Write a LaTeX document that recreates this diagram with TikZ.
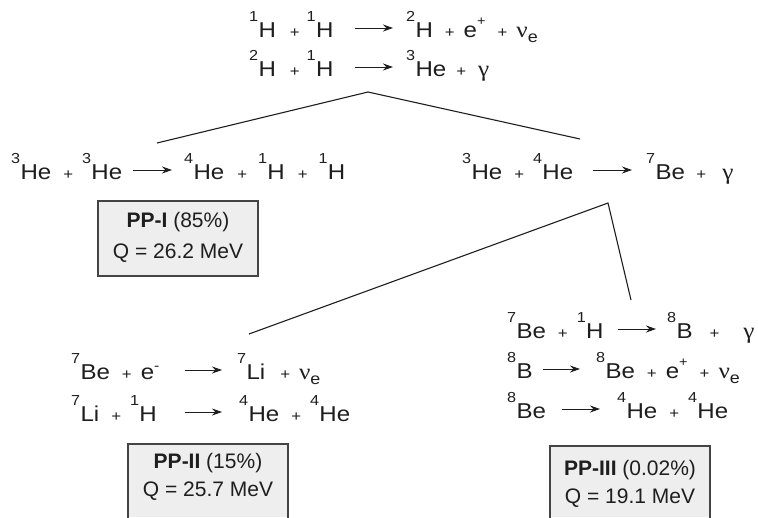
\documentclass[tikz,border=0pt]{standalone}
\usepackage{fontspec}
\setmainfont{Liberation Sans}
% reaction equations are set in a slightly widened face
\newfontfamily\eqfont[FakeStretch=1.12]{Liberation Sans}
\newfontfamily\grkfont[FakeStretch=1.12]{Liberation Serif}
\usetikzlibrary{arrows.meta}

% size switch, isotopes, particles
\newcommand\sz[1]{\fontsize{#1pt}{#1pt}\selectfont}
\newcommand\iso[2]{\raisebox{15.5pt}{\sz{14.5}#1}\kern0.3pt#2}
\newcommand\plx[2]{\hspace{#1}{\sz{15}+}\hspace{#2}}
\newcommand\pl{\plx{12pt}{9pt}}
\newcommand\nue{{\grkfont\sz{22.5}ν}\raisebox{-5pt}{\sz{16}e}}
\newcommand\gam{{\grkfont\sz{22.5}γ}}
\newcommand\epos{e\raisebox{11.5pt}{\sz{13}+}}
\newcommand\eneg{e\raisebox{9pt}{\sz{14}-}}

\definecolor{ink}{HTML}{1E1E1E}
\definecolor{boxfill}{HTML}{EEEEEE}
\definecolor{boxline}{HTML}{444444}

\tikzset{
  eq/.style={anchor=base west, inner sep=0pt, text=ink, font=\eqfont\sz{21.5}},
  rxn/.style={draw=ink, line width=0.9pt, -{Stealth[length=10pt,width=7pt]}},
  branch/.style={draw=ink, line width=1.1pt},
  ppframe/.style={draw=boxline, line width=1.1pt},
  pptext/.style={inner sep=0pt, text=ink, font=\sz{21}, align=center},
}

\begin{document}
\begin{tikzpicture}[x=1pt, y=-1pt]
\useasboundingbox (0,0) rectangle (758,517);

% ---- common start: p + p and deuterium burning
\node[eq] (r1l) at (249,37) {\iso{1}{H}\plx{14pt}{7pt}\iso{1}{H}};
\node[eq] (r1r) at (406,37) {\iso{2}{H}\pl\epos\pl\nue};
\coordinate (a1s) at (355,28); \coordinate (a1e) at (393,28);
\draw[rxn] (a1s) -- (a1e);

\node[eq] (r2l) at (249,76) {\iso{2}{H}\plx{14pt}{7pt}\iso{1}{H}};
\node[eq] (r2r) at (406,76) {\iso{3}{He}\plx{10pt}{12pt}\gam};
\coordinate (a2s) at (355,67); \coordinate (a2e) at (393,67);
\draw[rxn] (a2s) -- (a2e);

% ---- first branching
\coordinate (p0) at (368,92);
\coordinate (p0l) at (157,143);
\coordinate (p0r) at (580,139);
\draw[branch] (p0l) -- (p0) -- (p0r);

% PP-I chain
\node[eq] (s1l) at (11,179) {\iso{3}{He}\pl\iso{3}{He}};
\node[eq] (s1r) at (184,179) {\iso{4}{He}\plx{13pt}{11pt}\iso{1}{H}\plx{13pt}{11pt}\iso{1}{H}};
\coordinate (b1s) at (133,170); \coordinate (b1e) at (172,170);
\draw[rxn] (b1s) -- (b1e);

\fill[boxfill] (98,201) rectangle (258,276);
\draw[ppframe] (98,201) rectangle (258,276);
\node[pptext, anchor=base] (pp1a) at (178,227) {\textbf{PP-I} (85\%)};
\node[pptext, anchor=base] (pp1b) at (178,258) {Q = 26.2 MeV};

% 3He + 4He
\node[eq] (s2l) at (462,179) {\iso{3}{He}\pl\iso{4}{He}};
\node[eq] (s2r) at (646,179) {\iso{7}{Be}\plx{11.5pt}{16pt}\gam};
\coordinate (b2s) at (593,170); \coordinate (b2e) at (632,170);
\draw[rxn] (b2s) -- (b2e);

% ---- second branching
\coordinate (p1) at (608,203);
\coordinate (p1l) at (249,334);
\coordinate (p1r) at (631,300);
\draw[branch] (p1l) -- (p1) -- (p1r);

% PP-II chain
\node[eq] (t1l) at (71,379) {\iso{7}{Be}\pl\eneg};
\node[eq] (t1r) at (237,379) {\iso{7}{Li}\plx{15pt}{9pt}\nue};
\coordinate (c1s) at (185,370); \coordinate (c1e) at (222,370);
\draw[rxn] (c1s) -- (c1e);

\node[eq] (t2l) at (71,421) {\iso{7}{Li}\pl\iso{1}{H}};
\node[eq] (t2r) at (239,421) {\iso{4}{He}\pl\iso{4}{He}};
\coordinate (c2s) at (185,412); \coordinate (c2e) at (222,412);
\draw[rxn] (c2s) -- (c2e);

\fill[boxfill] (128,444) rectangle (288,517);
\draw[ppframe] (128,518) -- (128,444) -- (288,444) -- (288,518);
\node[pptext, anchor=base] (pp2a) at (208,468) {\textbf{PP-II} (15\%)};
\node[pptext, anchor=base] (pp2b) at (208,496) {Q = 25.7 MeV};

% PP-III chain
\node[eq] (u1l) at (507,338) {\iso{7}{Be}\pl\iso{1}{H}};
\node[eq] (u1r) at (667,338) {\iso{8}{B}\plx{17pt}{24pt}\gam};
\coordinate (d1s) at (618,329); \coordinate (d1e) at (656,329);
\draw[rxn] (d1s) -- (d1e);

\node[eq] (u2l) at (507,378) {\iso{8}{B}};
\node[eq] (u2r) at (596,378) {\iso{8}{Be}\pl\epos\pl\nue};
\coordinate (d2s) at (543,369); \coordinate (d2e) at (580,369);
\draw[rxn] (d2s) -- (d2e);

\node[eq] (u3l) at (507,418) {\iso{8}{Be}};
\node[eq] (u3r) at (617,418) {\iso{4}{He}\pl\iso{4}{He}};
\coordinate (d3s) at (562,409); \coordinate (d3e) at (600,409);
\draw[rxn] (d3s) -- (d3e);

\fill[boxfill] (550,446) rectangle (710,517);
\draw[ppframe] (550,518) -- (550,446) -- (710,446) -- (710,518);
\node[pptext, anchor=base] (pp3a) at (630,475) {\textbf{PP-III} (0.02\%)};
\node[pptext, anchor=base] (pp3b) at (630,503) {Q = 19.1 MeV};
\end{tikzpicture}
\end{document}
